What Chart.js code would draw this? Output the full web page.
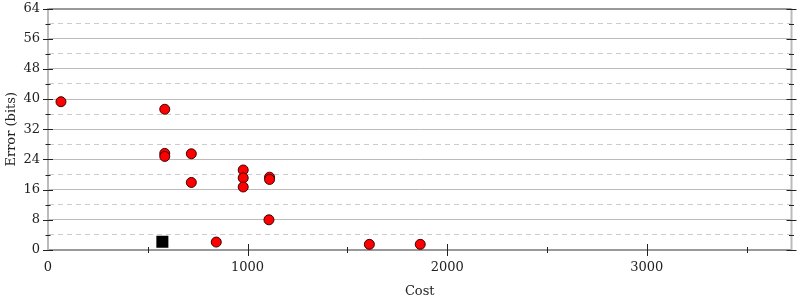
<!DOCTYPE html>
<html><head><meta charset="utf-8">
<script src="https://cdn.jsdelivr.net/npm/chart.js@4"></script>
<style>html,body{margin:0;padding:0;background:#fff}#w{width:800px;height:300px}</style>
</head><body><div id="w"><canvas id="c" width="800" height="300"></canvas></div>
<script>
const costRed = [65, 585, 585, 585, 718, 718, 978, 978, 978, 1110, 1110, 1107, 843, 1610, 1865];
const errRed  = [39.3, 37.3, 25.6, 24.8, 25.5, 17.9, 21.2, 19.1, 16.7, 19.3, 18.7, 8.0, 2.1, 1.5, 1.5];
const costBlack = [573];
const errBlack  = [2.2];
const xMajorTicks = [0, 1000, 2000, 3000];
const yMajorStep = 8;

const font = {family: "'DejaVu Serif', serif", size: 13};
const tickPlugin = {
  id: 'ticks',
  afterDraw(chart) {
    const ctx = chart.ctx, x = chart.scales.x, y = chart.scales.y, a = chart.chartArea;
    ctx.save();
    ctx.strokeStyle = '#bbb'; ctx.lineWidth = 2;
    ctx.beginPath(); ctx.moveTo(a.right, a.top); ctx.lineTo(a.right, a.bottom); ctx.stroke();
    ctx.strokeStyle = '#222'; ctx.lineWidth = 1;
    for (let v = 0; v <= 64; v += 4) {
      const p = Math.round(y.getPixelForValue(v)) + 0.5;
      const L = v % 8 === 0 ? 5 : 2.5;
      ctx.beginPath();
      ctx.moveTo(a.left - L, p); ctx.lineTo(a.left + L, p);
      ctx.moveTo(a.right - L, p); ctx.lineTo(a.right + L, p);
      ctx.stroke();
    }
    for (let v = 500; v < x.max; v += 500) {
      const p = Math.round(x.getPixelForValue(v)) + 0.5;
      const L = v % 1000 === 0 ? 6 : 3;
      ctx.beginPath(); ctx.moveTo(p, a.bottom - L); ctx.lineTo(p, a.bottom + L); ctx.stroke();
    }
    ctx.restore();
  }
};

new Chart(document.getElementById('c'), {
  type: 'scatter',
  data: {datasets: [
    {data: costBlack.map((c,i)=>({x:c,y:errBlack[i]})), pointStyle:'rect', pointRadius:8.5, backgroundColor:'#000', borderColor:'#000', borderWidth:0},
    {data: costRed.map((c,i)=>({x:c,y:errRed[i]})), pointRadius:5, backgroundColor:'#ff0000', borderColor:'#3a0000', borderWidth:1}
  ]},
  plugins: [tickPlugin],
  options: {
    responsive:false, animation:false,
    layout:{padding:{top:7,right:7,left:0,bottom:0}},
    plugins:{legend:{display:false}, tooltip:{enabled:false}},
    scales:{
      x:{type:'linear', min:0, max:3725,
        afterBuildTicks(s){ s.ticks = xMajorTicks.map(v=>({value:v})); },
        afterFit(s){ s.height = 50; s.paddingLeft = 0; s.paddingRight = 0; },
        grid:{drawOnChartArea:false, drawTicks:false},
        border:{color:'#999', width:2},
        ticks:{color:'#222', font, padding:10, maxRotation:0, callback:v => String(v)},
        title:{display:true, text:'Cost', color:'#222', font:{family:"'DejaVu Serif', serif", size:13}, padding:{top:4, bottom:1}}
      },
      y:{min:0, max:64,
        ticks:{stepSize:4, autoSkip:false, color:'#222', font, padding:8, callback:v => v % yMajorStep === 0 ? String(v) : ''},
        afterFit(s){ s.width = 48; s.paddingTop = 0; s.paddingBottom = 0; },
        grid:{drawTicks:false,
          color:c => (c.tick && (c.tick.value===64)) ? '#999' : (c.tick && c.tick.value % 8 === 0 ? '#bbb' : '#ccc'),
          lineWidth:c => (c.tick && c.tick.value===64) ? 2 : 1},
        border:{color:'#bbb', width:2, dash:c => (c.tick && c.tick.value % 8 !== 0) ? [5,4] : []},
        title:{display:true, text:'Error (bits)', color:'#222', font:{family:"'DejaVu Serif', serif", size:13}, padding:{bottom:2}}
      }
    }
  }
});
</script></body></html>
